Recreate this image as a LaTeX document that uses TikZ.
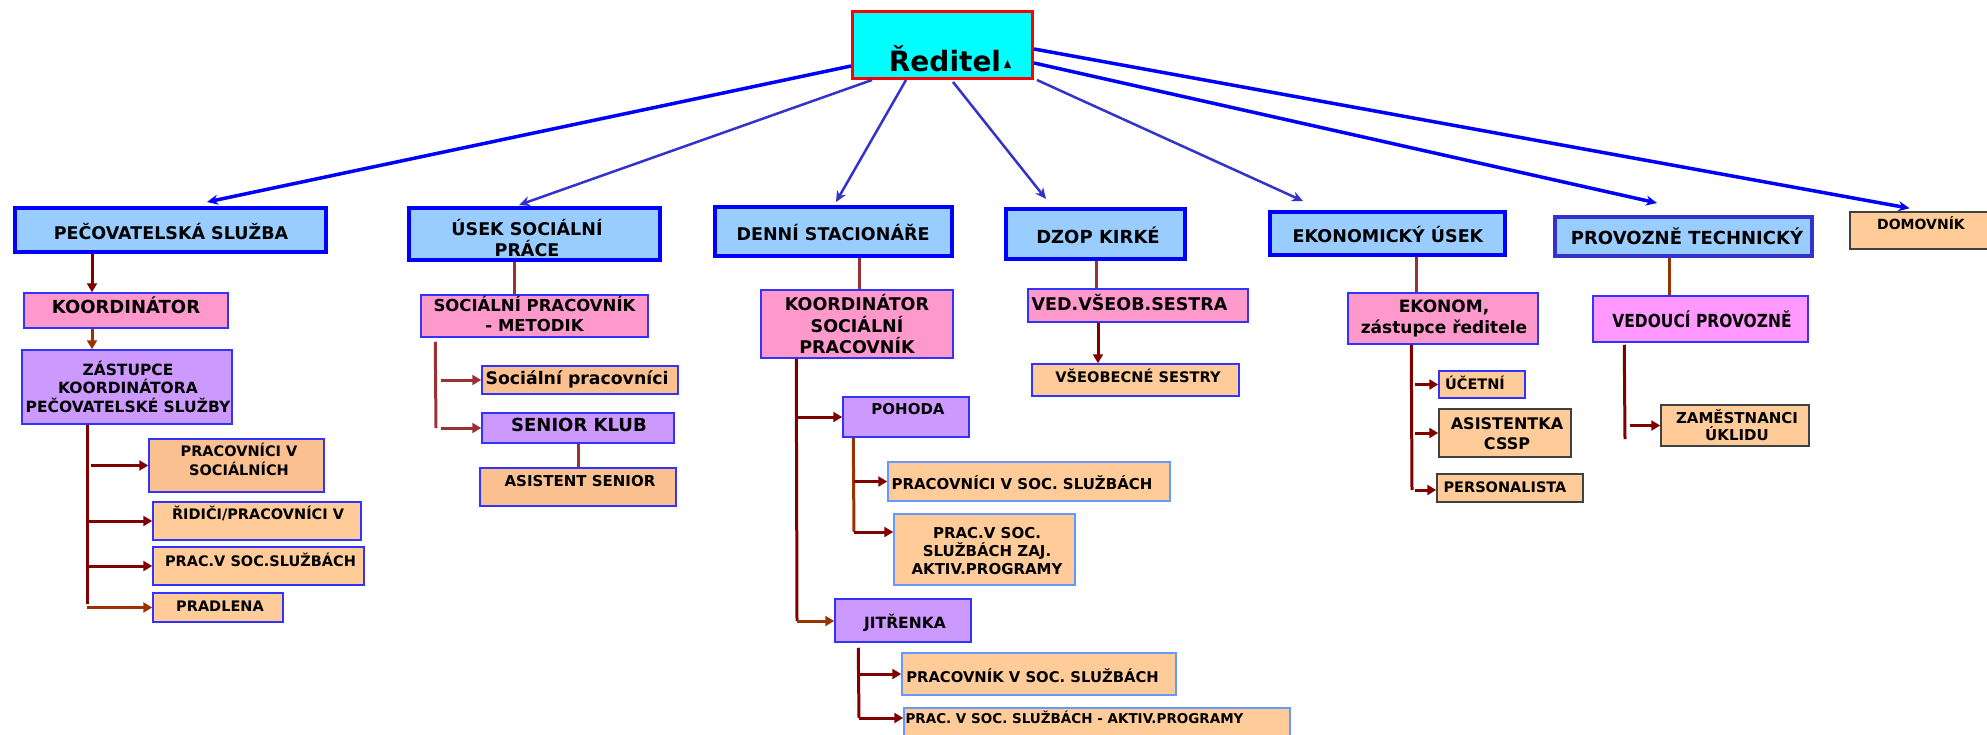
\documentclass[tikz,border=0pt]{standalone}
\usepackage{fontspec}
\setmainfont{DejaVu Sans}
\newfontfamily\narrowfont{DejaVu Sans}[FakeStretch=0.86]
\usetikzlibrary{arrows.meta}
\definecolor{dirfill}{HTML}{00FFFF}
\definecolor{dirline}{HTML}{FF0000}
\definecolor{hdrfill}{HTML}{99CCFF}
\definecolor{pinkf}{HTML}{FF99CC}
\definecolor{purplef}{HTML}{CC99FF}
\definecolor{orangef}{HTML}{FFCC99}
\definecolor{salmonf}{HTML}{FAC090}
\definecolor{magentaf}{HTML}{FF99FF}
\definecolor{bblue}{HTML}{0000FF}
\definecolor{bmid}{HTML}{3333CC}
\definecolor{thinblue}{HTML}{3333FF}
\definecolor{lightblue}{HTML}{6699FF}
\definecolor{greyb}{HTML}{404040}
\definecolor{darkred}{HTML}{800000}
\definecolor{brick}{HTML}{993333}
\definecolor{rust}{HTML}{993300}
\newcommand\fsz[2]{\fontsize{#1pt}{#2pt}\selectfont\bfseries}
\newcommand\mybox[6]{\node[#6,minimum width={(#4-#2)*1pt},minimum height={(#5-#3)*1pt}] (#1) at ({(#2+#4)/2},{(#3+#5)/2}) {};}
\begin{document}
\begin{tikzpicture}[x=1pt,y=-1pt,
  hdr/.style={draw=bblue,fill=hdrfill,line width=4pt,inner sep=0pt},
  bx/.style={draw=thinblue,line width=1.5pt,inner sep=0pt},
  t/.style={inner sep=0pt,text=black},
  conn/.style={line width=3pt},
  arr/.style={line width=3pt,-{Triangle[length=9pt,width=10pt]}},
  toparr/.style={line width=3pt,-{Stealth[length=11pt,width=10pt]}}]
\fill[white] (0,0) rectangle (1987,734);
\useasboundingbox (0,0) rectangle (1987,734);
\clip (0,0) rectangle (1987,734);

% Director
\mybox{dir}{852.5}{11.5}{1032.5}{78.5}{draw=dirline,fill=dirfill,line width=3pt,inner sep=0pt}
\node[t,font=\fsz{28}{34},anchor=base] (dir-t) at (945,71) {Ředitel};
\fill (1004,68) -- (1011,68) -- (1007.5,60) -- cycle;

% Headers
\mybox{ps}{15}{208}{326}{252}{hdr}
\mybox{usp}{409}{208}{660}{260}{hdr}
\mybox{ds}{715}{207}{952}{256}{hdr}
\mybox{dzop}{1006}{209}{1185}{259}{hdr}
\mybox{eko}{1270}{212}{1505}{255}{hdr}
\mybox{pt}{1555}{217}{1812}{256}{hdr,draw=bmid}
\mybox{dom}{1850}{212}{1990}{249}{bx,draw=greyb,fill=orangef}
\node[t,font=\fsz{17.5}{21},anchor=base] (ps-t) at (171,239) {PEČOVATELSKÁ SLUŽBA};
\node[t,font=\fsz{17.5}{21},align=center] (usp-t) at (527,238) {ÚSEK SOCIÁLNÍ\\PRÁCE};
\node[t,font=\fsz{17.5}{21},anchor=base] (ds-t) at (833,240) {DENNÍ STACIONÁŘE};
\node[t,font=\fsz{18}{21},anchor=base] (dzop-t) at (1098,243) {DZOP KIRKÉ};
\node[t,font=\fsz{17.5}{21},anchor=base] (eko-t) at (1388,242) {EKONOMICKÝ ÚSEK};
\node[t,font=\fsz{18}{21},anchor=base] (pt-t) at (1687,244) {PROVOZNĚ TECHNICKÝ};
\node[t,font=\fsz{14}{17},anchor=base] (dom-t) at (1921,229) {DOMOVNÍK};

% Top arrows
\draw[toparr,bblue,line width=3.5pt] ([yshift=-21pt]dir.west) -- ([xshift=36.5pt,yshift=4pt]ps.north);
\draw[toparr,bmid,line width=2.5pt] ([xshift=-70.5pt]dir.south) -- ([xshift=-15.5pt,yshift=1pt]usp.north);
\draw[toparr,bmid,line width=2.5pt] ([xshift=-36.5pt]dir.south) -- ([xshift=2.5pt,yshift=3pt]ds.north);
\draw[toparr,bmid,line width=2.5pt] ([xshift=10.5pt,yshift=-2pt]dir.south) -- ([xshift=-49.5pt,yshift=8pt]dzop.north);
\draw[toparr,bmid,line width=2.5pt] ([xshift=3pt]dir.south east) -- ([xshift=-84.5pt,yshift=9pt]eko.north);
\draw[toparr,bblue,line width=3.5pt] ([yshift=-18pt]dir.east) -- ([xshift=-26.5pt,yshift=12pt]pt.north);
\draw[toparr,bblue,line width=3.5pt] ([yshift=-4pt]dir.east) -- ([xshift=-10.5pt,yshift=3pt]dom.north);

% Column 1
\mybox{koord1}{24}{293}{228}{328}{bx,fill=pinkf}
\node[t,font=\fsz{18}{22},anchor=base] (koord1-t) at (126,313) {KOORDINÁTOR};
\mybox{zast}{22}{350}{232}{424}{bx,fill=purplef}
\node[t,font=\fsz{15.5}{18.5},align=center] (zast-t) at (128,386.5) {ZÁSTUPCE\\KOORDINÁTORA\\PEČOVATELSKÉ SLUŽBY};
\mybox{pvs}{149}{439}{324}{492}{bx,fill=salmonf}
\node[t,font=\fsz{14.5}{19},align=center] (pvs-t) at (239,459) {PRACOVNÍCI V\\SOCIÁLNÍCH};
\mybox{ridici}{153}{502}{361}{540}{bx,fill=orangef}
\node[t,font=\fsz{14.5}{18},anchor=base] (ridici-t) at (258,519) {ŘIDIČI/PRACOVNÍCI V};
\mybox{pracv}{153}{547}{364}{585}{bx,fill=orangef}
\node[t,font=\fsz{14.5}{18},anchor=base] (pracv-t) at (260.5,566) {PRAC.V SOC.SLUŽBÁCH};
\mybox{pradl}{153}{593}{283}{622}{bx,fill=orangef}
\node[t,font=\fsz{14.5}{18},anchor=base] (pradl-t) at (220,611) {PRADLENA};
\draw[arr,darkred] ([xshift=-78.5pt]ps.south) -- ([xshift=-34pt]koord1.north);
\draw[arr,rust] ([xshift=-34pt]koord1.south) -- ([xshift=-35pt]zast.north);
\coordinate (z-end) at (87,604);
\draw[conn,darkred] ([xshift=-40pt]zast.south) -- (z-end);
\draw[arr,darkred,shorten <=4pt] (z-end |- pvs.west) -- (pvs.west);
\draw[arr,darkred] (z-end |- ridici.west) -- (ridici.west);
\draw[arr,darkred] (z-end |- pracv.west) -- (pracv.west);
\draw[arr,rust] (z-end |- pradl.west) -- (pradl.west);

% Column 2
\mybox{spm}{421}{295}{648}{337}{bx,fill=pinkf}
\node[t,font=\fsz{16.5}{20},align=center] (spm-t) at (534.5,314) {SOCIÁLNÍ PRACOVNÍK\\- METODIK};
\mybox{socp}{482}{366}{678}{394}{bx,fill=salmonf}
\node[t,font=\fsz{17.3}{20},anchor=base] (socp-t) at (577,384) {Sociální pracovníci};
\mybox{sk}{482}{413}{674}{443}{bx,fill=purplef}
\node[t,font=\fsz{18}{21},anchor=base] (sk-t) at (579,431) {SENIOR KLUB};
\mybox{as}{480}{468}{676}{506}{bx,fill=salmonf}
\node[t,font=\fsz{15}{18},anchor=base] (as-t) at (580,486) {ASISTENT SENIOR};
\draw[conn,brick] ([xshift=-20.5pt]usp.south) -- ([xshift=-20.5pt]spm.north);
\coordinate (s-end) at (436,428);
\draw[conn,brick] ([xshift=15pt,yshift=-4pt]spm.south west) -- (s-end);
\draw[arr,brick,shorten <=5pt] (s-end |- socp.west) -- (socp.west);
\draw[arr,brick,shorten <=5pt] (s-end |- sk.west) -- (sk.west);
\draw[conn,brick] (sk.south) -- (as.north);

% Column 3
\mybox{ksp}{761}{290}{953}{358}{bx,fill=pinkf}
\node[t,font=\fsz{17.5}{21.5},align=center] (ksp-t) at (857,324.5) {KOORDINÁTOR\\SOCIÁLNÍ\\PRACOVNÍK};
\mybox{pohoda}{843}{397}{969}{437}{bx,fill=purplef}
\node[t,font=\fsz{15}{18},anchor=base] (pohoda-t) at (908,414) {POHODA};
\mybox{pvss}{888}{462}{1170}{501}{bx,draw=lightblue,fill=orangef}
\node[t,font=\fsz{15}{18},anchor=base] (pvss-t) at (1022,489) {PRACOVNÍCI V SOC. SLUŽBÁCH};
\mybox{pvsz}{894}{514}{1075}{585}{bx,draw=lightblue,fill=orangef}
\node[t,font=\fsz{15}{18},align=center] (pvsz-t) at (987,551) {PRAC.V SOC.\\SLUŽBÁCH ZAJ.\\AKTIV.PROGRAMY};
\mybox{jit}{835}{599}{971}{642}{bx,fill=purplef}
\node[t,font=\fsz{15.5}{18},anchor=base] (jit-t) at (905,628) {JITŘENKA};
\mybox{pvss2}{902}{653}{1176}{695}{bx,draw=lightblue,fill=orangef}
\node[t,font=\fsz{14.8}{18},anchor=base] (pvss2-t) at (1032.5,682) {PRACOVNÍK V SOC. SLUŽBÁCH};
\mybox{last}{904}{708}{1290}{745}{bx,draw=lightblue,fill=orangef}
\node[t,font=\fsz{13.5}{16},anchor=base] (last-t) at (1074.5,723) {PRAC. V SOC. SLUŽBÁCH - AKTIV.PROGRAMY};
\draw[conn,brick] ([xshift=25.5pt]ds.south) -- ([xshift=2pt]ksp.north);
\coordinate (k-end) at (797,621);
\draw[conn,darkred] ([xshift=36pt]ksp.south west) -- (k-end);
\draw[arr,darkred] (k-end |- pohoda.west) -- (pohoda.west);
\draw[arr,rust] (k-end) -- (k-end -| jit.west);
\coordinate (p-end) at (854,532);
\draw[conn,rust] ([xshift=11pt]pohoda.south west) -- (p-end);
\draw[arr,darkred] (p-end |- pvss.west) -- (pvss.west);
\draw[arr,darkred] (p-end) -- (p-end -| pvsz.west);
\coordinate (j-end) at (859,718);
\draw[conn,darkred] ([xshift=24pt,yshift=-5pt]jit.south west) -- (j-end);
\draw[arr,darkred] (j-end |- pvss2.west) -- (pvss2.west);
\draw[arr,darkred] (j-end) -- (j-end -| last.west);

% Column 4
\mybox{ved}{1028}{289}{1248}{322}{bx,fill=pinkf}
\node[t,font=\fsz{17.5}{21},anchor=base] (ved-t) at (1129.5,310.5) {VED.VŠEOB.SESTRA};
\mybox{vs}{1032}{364}{1239}{396}{bx,fill=orangef}
\node[t,font=\fsz{14.6}{18},anchor=base] (vs-t) at (1138,382) {VŠEOBECNÉ SESTRY};
\draw[conn,brick] ([xshift=0.5pt]dzop.south) -- ([xshift=-42pt]ved.north);
\draw[arr,darkred] ([xshift=-40pt]ved.south) -- ([xshift=-37.5pt]vs.north);

% Column 5
\mybox{ekonom}{1348}{293}{1538}{344}{bx,fill=pinkf}
\node[t,font=\fsz{17}{21},align=center] (ekonom-t) at (1444,318) {EKONOM,\\zástupce ředitele};
\mybox{ucetni}{1439}{371}{1525}{398}{bx,fill=orangef}
\node[t,font=\fsz{14.5}{18},anchor=base] (ucetni-t) at (1475,389) {ÚČETNÍ};
\mybox{asist}{1439}{409}{1571}{457}{bx,draw=greyb,fill=orangef}
\node[t,font=\fsz{16}{20},align=center] (asist-t) at (1507,433.5) {ASISTENTKA\\CSSP};
\mybox{pers}{1437}{474}{1583}{502}{bx,draw=greyb,fill=orangef}
\node[t,font=\fsz{14.5}{18},anchor=base] (pers-t) at (1505,492) {PERSONALISTA};
\draw[conn,brick] ([xshift=28.5pt]eko.south) -- ([xshift=-27pt]ekonom.north);
\coordinate (e-end) at (1412,490);
\draw[conn,darkred] ([xshift=64pt]ekonom.south west) -- (e-end);
\draw[arr,darkred,shorten <=3pt] (e-end |- ucetni.west) -- (ucetni.west);
\draw[arr,darkred,shorten <=3pt] (e-end |- asist.west) -- (asist.west);
\draw[arr,darkred,shorten <=3pt] (e-end) -- (e-end -| pers.west);

% Column 6
\mybox{vp}{1593}{296}{1808}{342}{bx,fill=magentaf}
\node[t,font={\narrowfont\fsz{18}{22}},anchor=base] (vp-t) at (1702,327) {VEDOUCÍ PROVOZNĚ};
\mybox{zam}{1661}{405}{1809}{446}{bx,draw=greyb,fill=orangef}
\node[t,font=\fsz{15}{17},align=center] (zam-t) at (1737,425) {ZAMĚSTNANCI\\ÚKLIDU};
\draw[conn,rust] ([xshift=-14.5pt]pt.south) -- ([xshift=-31.5pt]vp.north);
\coordinate (v-end) at (1625,439);
\draw[conn,darkred] ([xshift=32pt,yshift=-2pt]vp.south west) -- (v-end);
\draw[arr,darkred,shorten <=5pt] (v-end |- zam.west) -- (zam.west);
\end{tikzpicture}
\end{document}
